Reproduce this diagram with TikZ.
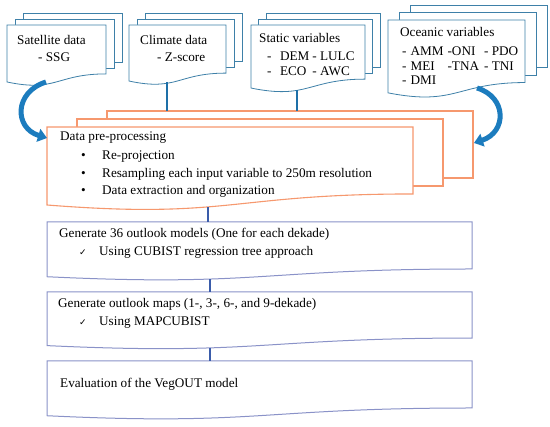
\documentclass[tikz,border=0pt]{standalone}
\usepackage{fontspec}
\setmainfont{Liberation Serif}
\newfontfamily\symfont{DejaVu Sans}
\usetikzlibrary{arrows.meta}

\definecolor{docline}{RGB}{62,128,168}
\definecolor{preline}{RGB}{246,152,110}
\definecolor{boxline}{RGB}{138,146,200}
\definecolor{linkblue}{RGB}{30,112,168}
\definecolor{stepblue}{RGB}{58,92,170}
\definecolor{bendblue}{RGB}{28,124,190}

% page shape with a wavy foot: style, left, top, right, height
\newcommand{\docshape}[5]{%
  \draw[#1] (#2,#3) -- (#4,#3) -- (#4,{#3+0.802*#5})
    .. controls ({(#2+#4)/2},{#3+0.802*#5}) and ({(#2+#4)/2},{#3+1.107*#5}) .. (#2,{#3+0.934*#5}) -- cycle;}
% three stacked pages: style, left, top, right, height, dx, dy
\newcommand{\multidoc}[7]{%
  \draw[#1] ({#2+2*#6},{#3-2*#7}) rectangle ({#4+2*#6},{#3+0.802*#5-2*#7});
  \draw[#1] ({#2+#6},{#3-#7}) rectangle ({#4+#6},{#3+0.802*#5-#7});
  \docshape{#1}{#2}{#3}{#4}{#5}}

\begin{document}
\begin{tikzpicture}[x=1pt,y=-1pt,font=\fontsize{13.2}{15}\selectfont,
  txt/.style={anchor=west,inner sep=0pt,text height=9pt,text depth=3pt},
  lst/.style={anchor=base west,inner sep=0pt},
  doc/.style={draw=docline,fill=white,line width=0.8pt},
  pre/.style={draw=preline,fill=white,line width=1.1pt},
  stepbox/.style={draw=boxline,fill=white,line width=1pt},
  link/.style={draw=linkblue,line width=2pt},
  steplink/.style={draw=stepblue,line width=2.6pt},
  bendarrow/.style={draw=bendblue,line width=5pt,-{Triangle[length=9pt,width=13pt]}}]
\fill[white] (0,0) rectangle (550,427);
\useasboundingbox (0,0) rectangle (550,427);

\multidoc{doc}{7}{25}{106}{61}{8}{6}
\multidoc{doc}{129}{25}{226}{60}{8}{6}
\multidoc{doc}{251}{25}{365}{67.5}{7.5}{6}
\multidoc{doc}{388}{20}{525}{78}{11}{7.5}
\multidoc{pre}{47}{127}{413}{83.5}{30}{8}
\docshape{stepbox}{47}{222}{472}{58.6}
\docshape{stepbox}{47}{292}{472}{57.4}
\docshape{stepbox}{47}{361}{472}{58.6}

\node[txt] (sathead) at (17,42) {Satellite data};
\node[txt] (satitem) at (38,59) {- SSG};
\node[txt] (climhead) at (140,42) {Climate data};
\node[txt] (climitem) at (157,59) {- Z-score};
\node[txt] (stathead) at (259,40) {Static variables};
\node[lst] (statitems) at (267,61) {\begin{tabular}[t]{@{}l@{\hspace{8.5pt}}l@{\hspace{3pt}}l@{}}
  - & DEM & - LULC\\
  - & ECO & - AWC
\end{tabular}};
\node[txt] (oceanhead) at (400,34) {Oceanic variables};
\node[lst] (oceanitems) at (402,56) {\begin{tabular}[t]{@{}l@{\hspace{4pt}}l@{\hspace{4pt}}l@{\hspace{5pt}}l@{}}
  - & AMM & -ONI & - PDO\\[-0.5pt]
  - & MEI & -TNA & - TNI\\[-0.5pt]
  - & DMI & & 
\end{tabular}};

\node[txt] (prehead) at (60,138) {Data pre-processing};
\node[txt] (dotproj) at (81,157) {\textbullet};
\node[txt] (proj) at (102,157) {Re-projection};
\node[txt] (dotres) at (81,175) {\textbullet};
\node[txt] (resamp) at (102,175) {Resampling each input variable to 250m resolution};
\node[txt] (dotext) at (81,192) {\textbullet};
\node[txt] (extract) at (102,192) {Data extraction and organization};

\node[txt] (modelhead) at (59,235) {Generate 36 outlook models (One for each dekade)};
\node[txt] (modeltick) at (79,253) {\symfont\fontsize{9}{11}\selectfont ✓};
\node[txt] (modelitem) at (99,253) {Using CUBIST regression tree approach};
\node[txt] (maphead) at (58,305) {Generate outlook maps (1-, 3-, 6-, and 9-dekade)};
\node[txt] (maptick) at (79,323) {\symfont\fontsize{9}{11}\selectfont ✓};
\node[txt] (mapitem) at (99,323) {Using MAPCUBIST};
\node[txt] (evalhead) at (60,385) {Evaluation of the VegOUT model};

\coordinate (climout) at (167,82.3);
\coordinate (statout) at (297,90.4);
\coordinate (climin) at (167,111);
\coordinate (statin) at (297,111);
\coordinate (preout) at (208,207);
\coordinate (modeltop) at (208,222);
\coordinate (modelbot) at (210,279);
\coordinate (maptop) at (210,292);
\coordinate (mapbot) at (210,348);
\coordinate (evaltop) at (210,361);
\coordinate (satout) at (46,82);
\coordinate (prein) at (47,138);
\coordinate (oceanout) at (477,88);
\coordinate (prebackin) at (474,143);

\draw[link] (climout) -- (climin);
\draw[link] (statout) -- (statin);
\draw[steplink] (preout) -- (modeltop);
\draw[steplink] (modelbot) -- (maptop);
\draw[steplink] (mapbot) -- (evaltop);
\draw[bendarrow] (satout) .. controls (14,92) and (14,128) .. (prein);
\draw[bendarrow] (oceanout) .. controls (507,97) and (507,132) .. (prebackin);
\end{tikzpicture}
\end{document}
